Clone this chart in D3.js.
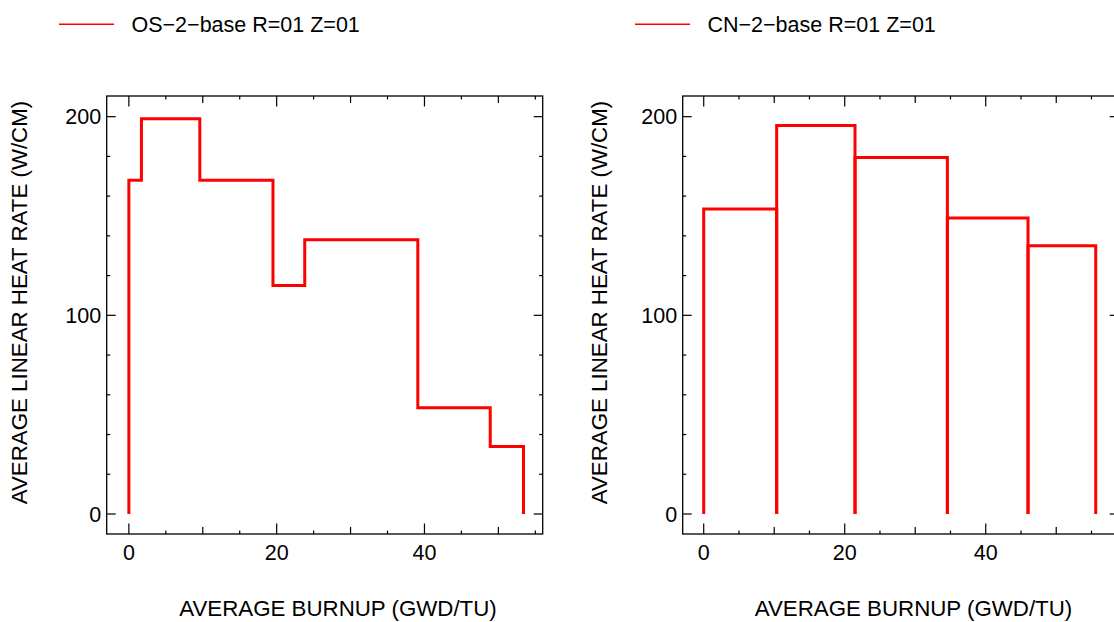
<!DOCTYPE html>
<html>
<head>
<meta charset="utf-8">
<script src="https://cdn.jsdelivr.net/npm/d3@7/dist/d3.min.js"></script>
<style>
  html, body { margin: 0; padding: 0; background: #fff; }
  svg { display: block; }
  text { font-family: "Liberation Sans", Arial, Helvetica, sans-serif; fill: #000; }
</style>
</head>
<body>
<svg id="chart" width="1114" height="622"></svg>
<script>
// Burnup step boundaries (GWd/tU) and average linear heat rate per step (W/cm)
const osName = "OS\u22122\u2212base R=01 Z=01";
const osBurnup = [0, 1.7, 9.6, 19.5, 23.8, 39.1, 48.9, 53.4];
const osRate = [168, 199, 168, 115, 138, 53.5, 34];

const cnName = "CN\u22122\u2212base R=01 Z=01";
const cnBurnup = [0, 10.35, 21.46, 34.56, 46.0, 55.6];
const cnRate = [153.5, 195.5, 179.5, 149, 135];

const xTickLabels = [0, 20, 40];
const yTickLabels = [0, 100, 200];
const xLabel = "AVERAGE BURNUP (GWD/TU)";
const yLabel = "AVERAGE LINEAR HEAT RATE (W/CM)";

const svg = d3.select("#chart");
const FONT = 21.5;
const TITLE_FONT = 22.3;
const RED = "#ff0000";

const panels = [
  { name: osName, burnup: osBurnup, rate: osRate, kind: "step",
    left: 106.7, top: 96, width: 436, height: 438, xDomain: [-3, 56],
    legendX: 59, xLabelX: 338, yLabelX: 27 },
  { name: cnName, burnup: cnBurnup, rate: cnRate, kind: "bars",
    left: 682.7, top: 96, width: 436, height: 438, xDomain: [-2.98, 58.86],
    legendX: 635, xLabelX: 913.5, yLabelX: 607 }
];

panels.forEach(p => {
  const x = d3.scaleLinear().domain(p.xDomain).range([p.left, p.left + p.width]);
  const y = d3.scaleLinear().domain([-10.07, 210.4]).range([p.top + p.height, p.top]);
  const g = svg.append("g");
  const x0 = p.left, x1 = p.left + p.width, y0 = p.top + p.height, y1 = p.top;

  // frame ticks (inward on all four sides)
  const xt = d3.range(0, p.xDomain[1], 5);
  xt.forEach(v => {
    const len = v % 20 === 0 ? 10.5 : (v % 10 === 0 ? 7 : 3.5);
    g.append("line").attr("x1", x(v)).attr("x2", x(v)).attr("y1", y0).attr("y2", y0 - len)
      .attr("stroke", "#000").attr("stroke-width", 1.2);
    g.append("line").attr("x1", x(v)).attr("x2", x(v)).attr("y1", y1).attr("y2", y1 + len)
      .attr("stroke", "#000").attr("stroke-width", 1.2);
  });
  const yt = d3.range(0, 210, 20);
  yt.forEach(v => {
    const len = v % 100 === 0 ? 9 : 3.5;
    g.append("line").attr("x1", x0).attr("x2", x0 + len).attr("y1", y(v)).attr("y2", y(v))
      .attr("stroke", "#000").attr("stroke-width", 1.2);
    g.append("line").attr("x1", x1).attr("x2", x1 - len).attr("y1", y(v)).attr("y2", y(v))
      .attr("stroke", "#000").attr("stroke-width", 1.2);
  });

  // frame
  g.append("rect").attr("x", x0).attr("y", y1).attr("width", p.width).attr("height", p.height)
    .attr("fill", "none").attr("stroke", "#000").attr("stroke-width", 1.3);

  // tick labels
  xTickLabels.forEach(v => {
    g.append("text").attr("x", x(v)).attr("y", 559.5).attr("text-anchor", "middle")
      .attr("font-size", FONT).text(v);
  });
  yTickLabels.forEach(v => {
    g.append("text").attr("x", x0 - 5.5).attr("y", y(v)).attr("dy", "0.36em")
      .attr("text-anchor", "end").attr("font-size", FONT).text(v);
  });

  // axis titles
  g.append("text").attr("x", p.xLabelX).attr("y", 616).attr("text-anchor", "middle")
    .attr("font-size", TITLE_FONT).text(xLabel);
  g.append("text").attr("transform", `translate(${p.yLabelX},302.5) rotate(-90)`)
    .attr("text-anchor", "middle").attr("font-size", TITLE_FONT).text(yLabel);

  // data
  const line = d3.line().x(d => x(d[0])).y(d => y(d[1]));
  if (p.kind === "step") {
    const pts = [[p.burnup[0], 0]];
    p.rate.forEach((r, i) => {
      pts.push([p.burnup[i], r]);
      pts.push([p.burnup[i + 1], r]);
    });
    pts.push([p.burnup[p.burnup.length - 1], 0]);
    g.append("path").attr("d", line(pts)).attr("fill", "none")
      .attr("stroke", RED).attr("stroke-width", 3).attr("stroke-linejoin", "miter");
  } else {
    p.rate.forEach((r, i) => {
      const pts = [[p.burnup[i], 0], [p.burnup[i], r], [p.burnup[i + 1], r], [p.burnup[i + 1], 0]];
      g.append("path").attr("d", line(pts)).attr("fill", "none")
        .attr("stroke", RED).attr("stroke-width", 3).attr("stroke-linejoin", "miter");
    });
  }

  // legend
  g.append("line").attr("x1", p.legendX).attr("x2", p.legendX + 55).attr("y1", 24.3).attr("y2", 24.3)
    .attr("stroke", RED).attr("stroke-width", 1.5);
  g.append("text").attr("x", p.legendX + 72.5).attr("y", 31.5).attr("font-size", FONT).text(p.name);
});
</script>
</body>
</html>
